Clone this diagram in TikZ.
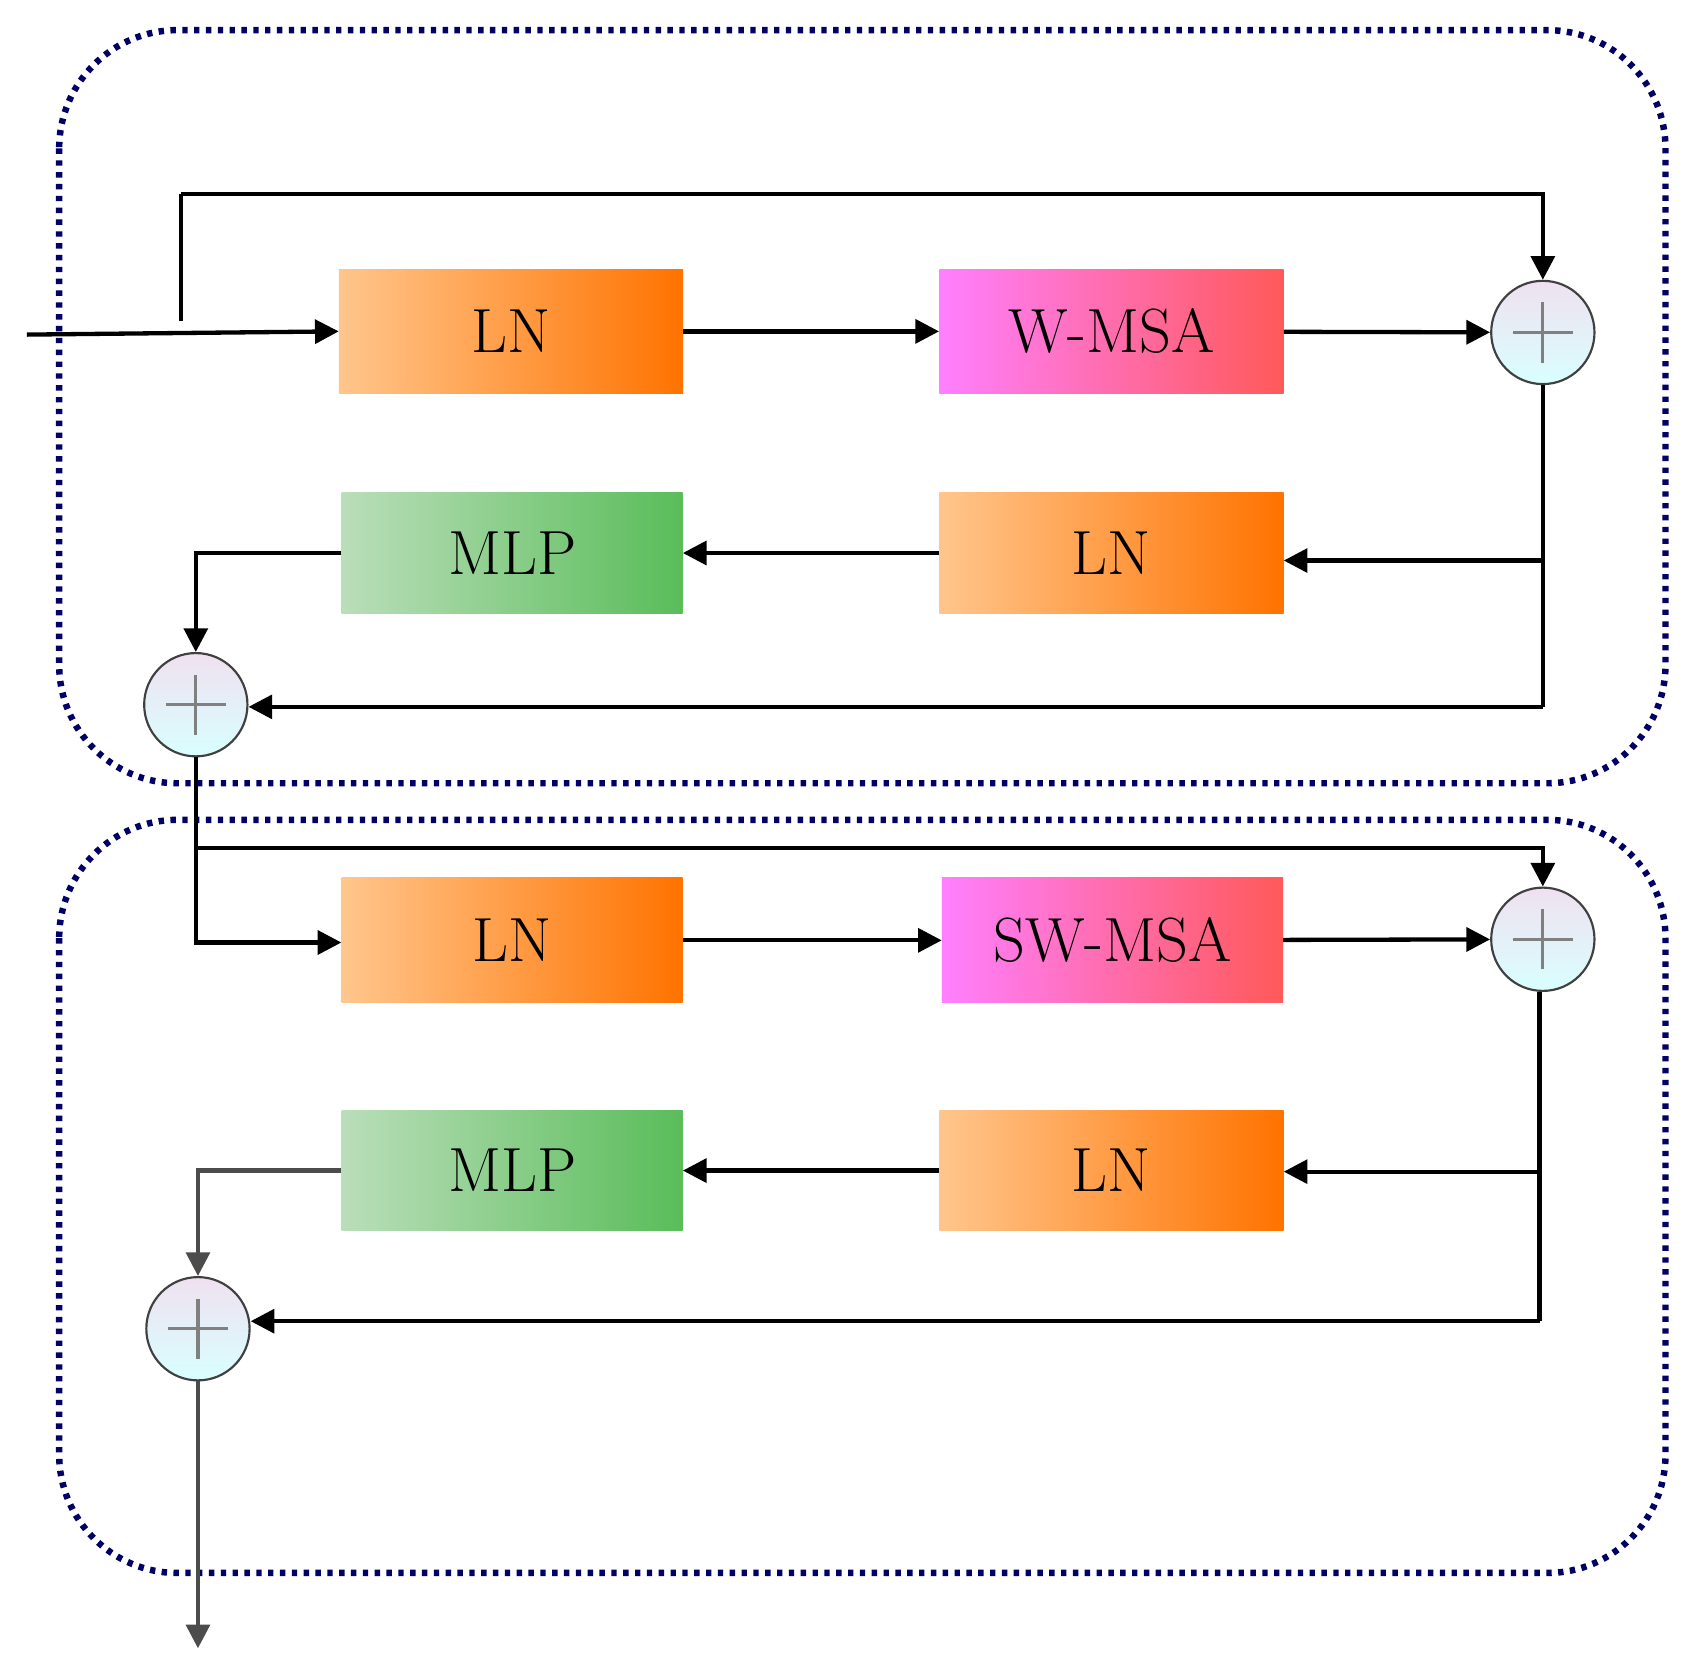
\documentclass[tikz,border=0pt]{standalone}
\usetikzlibrary{arrows.meta}
\begin{document}
\begin{tikzpicture}[x=1pt,y=-1pt,
  blk/.style={minimum width=320pt,minimum height=115pt,inner sep=0pt,font=\fontsize{58}{60}\selectfont},
  ln/.style={blk,left color=orange!45!white,right color=orange!90!red},
  msa/.style={blk,shading=axis,top color=magenta!45!white,bottom color=red!70!white,shading angle=60,
     left color=magenta!50!white,right color=red!65!white},
  mlp/.style={blk,left color=green!35!gray!40!white,right color=green!60!black!65!white},
  plus/.style={circle,draw=black!75,line width=2pt,minimum size=96pt,inner sep=0pt,top color=violet!12!white,bottom color=cyan!15!white,
    path picture={\draw[gray,line width=3pt] ([xshift=-28pt]path picture bounding box.center) -- ([xshift=28pt]path picture bounding box.center) ([yshift=-28pt]path picture bounding box.center) -- ([yshift=28pt]path picture bounding box.center);}},
  ar/.style={line width=4pt,-{Triangle[length=22pt,width=22pt]}},
  ln0/.style={line width=4pt},
  dot/.style={draw=blue!40!black,line width=6pt,dash pattern=on 5pt off 6pt,rounded corners=110pt}]
\useasboundingbox (0,0) rectangle (1568,1555);
\draw[dot] (55,28) rectangle (1548,728);
\draw[dot] (55,762) rectangle (1548,1462);
% top block
\node[ln] (ln1) at (475,308) {LN};
\node[msa] (wmsa) at (1033,308) {W-MSA};
\node[plus] (p1) at (1434,309) {};
\node[mlp,minimum width=317pt,minimum height=113pt] (mlp1) at (476,514) {MLP};
\node[ln,minimum height=113pt] (ln2) at (1033,514) {LN};
\node[plus] (p2) at (182,655) {};
\coordinate (in) at (25,311);
\coordinate (s1) at (168,298);
\coordinate (t1) at (168,180);
\draw[ar] (in) -- (ln1.west);
\draw[ln0] (s1) -- (t1);
\draw[ar] (t1) -| (p1.north);
\draw[ar] (ln1) -- (wmsa);
\draw[ar] (wmsa) -- (p1);
\coordinate (r1) at (1434,521);
\coordinate (r2) at (1434,657);
\draw[ln0] (p1.south) -- (r1) -- (r2);
\draw[ar] (r1) -- (ln2.east |- r1);
\draw[ar] (r2) -- (p2.east |- r2);
\draw[ar] (ln2) -- (mlp1);
\draw[ar] (mlp1.west) -| (p2.north);
% bottom block
\node[ln,minimum width=317pt,minimum height=116pt] (ln3) at (476,874) {LN};
\node[msa,minimum width=317pt,minimum height=116pt] (swmsa) at (1034,874) {SW-MSA};
\node[plus] (p3) at (1434,873) {};
\node[mlp,minimum width=317pt,minimum height=112pt] (mlp2) at (476,1088) {MLP};
\node[ln,minimum height=112pt] (ln4) at (1033,1088) {LN};
\node[plus] (p4) at (184,1235) {};
\coordinate (b1) at (182,876);
\coordinate (b2) at (182,788);
\draw[ar] (p2.south) -- (b1) -- (ln3.west |- b1);
\draw[ar] (b2) -| (p3.north);
\draw[ar] (ln3) -- (swmsa);
\draw[ar] (swmsa) -- (p3);
\coordinate (r3) at (1431,1089);
\coordinate (r4) at (1431,1228);
\draw[ln0] (p3.south -| r3) -- (r3) -- (r4);
\draw[ar] (r3) -- (ln4.east |- r3);
\draw[ar] (r4) -- (p4.east |- r4);
\draw[ar] (ln4) -- (mlp2);
\draw[ar,black!70] (mlp2.west) -| (p4.north);
\coordinate (out) at (184,1532);
\draw[ar,black!70] (p4.south) -- (out);
\end{tikzpicture}
\end{document}
